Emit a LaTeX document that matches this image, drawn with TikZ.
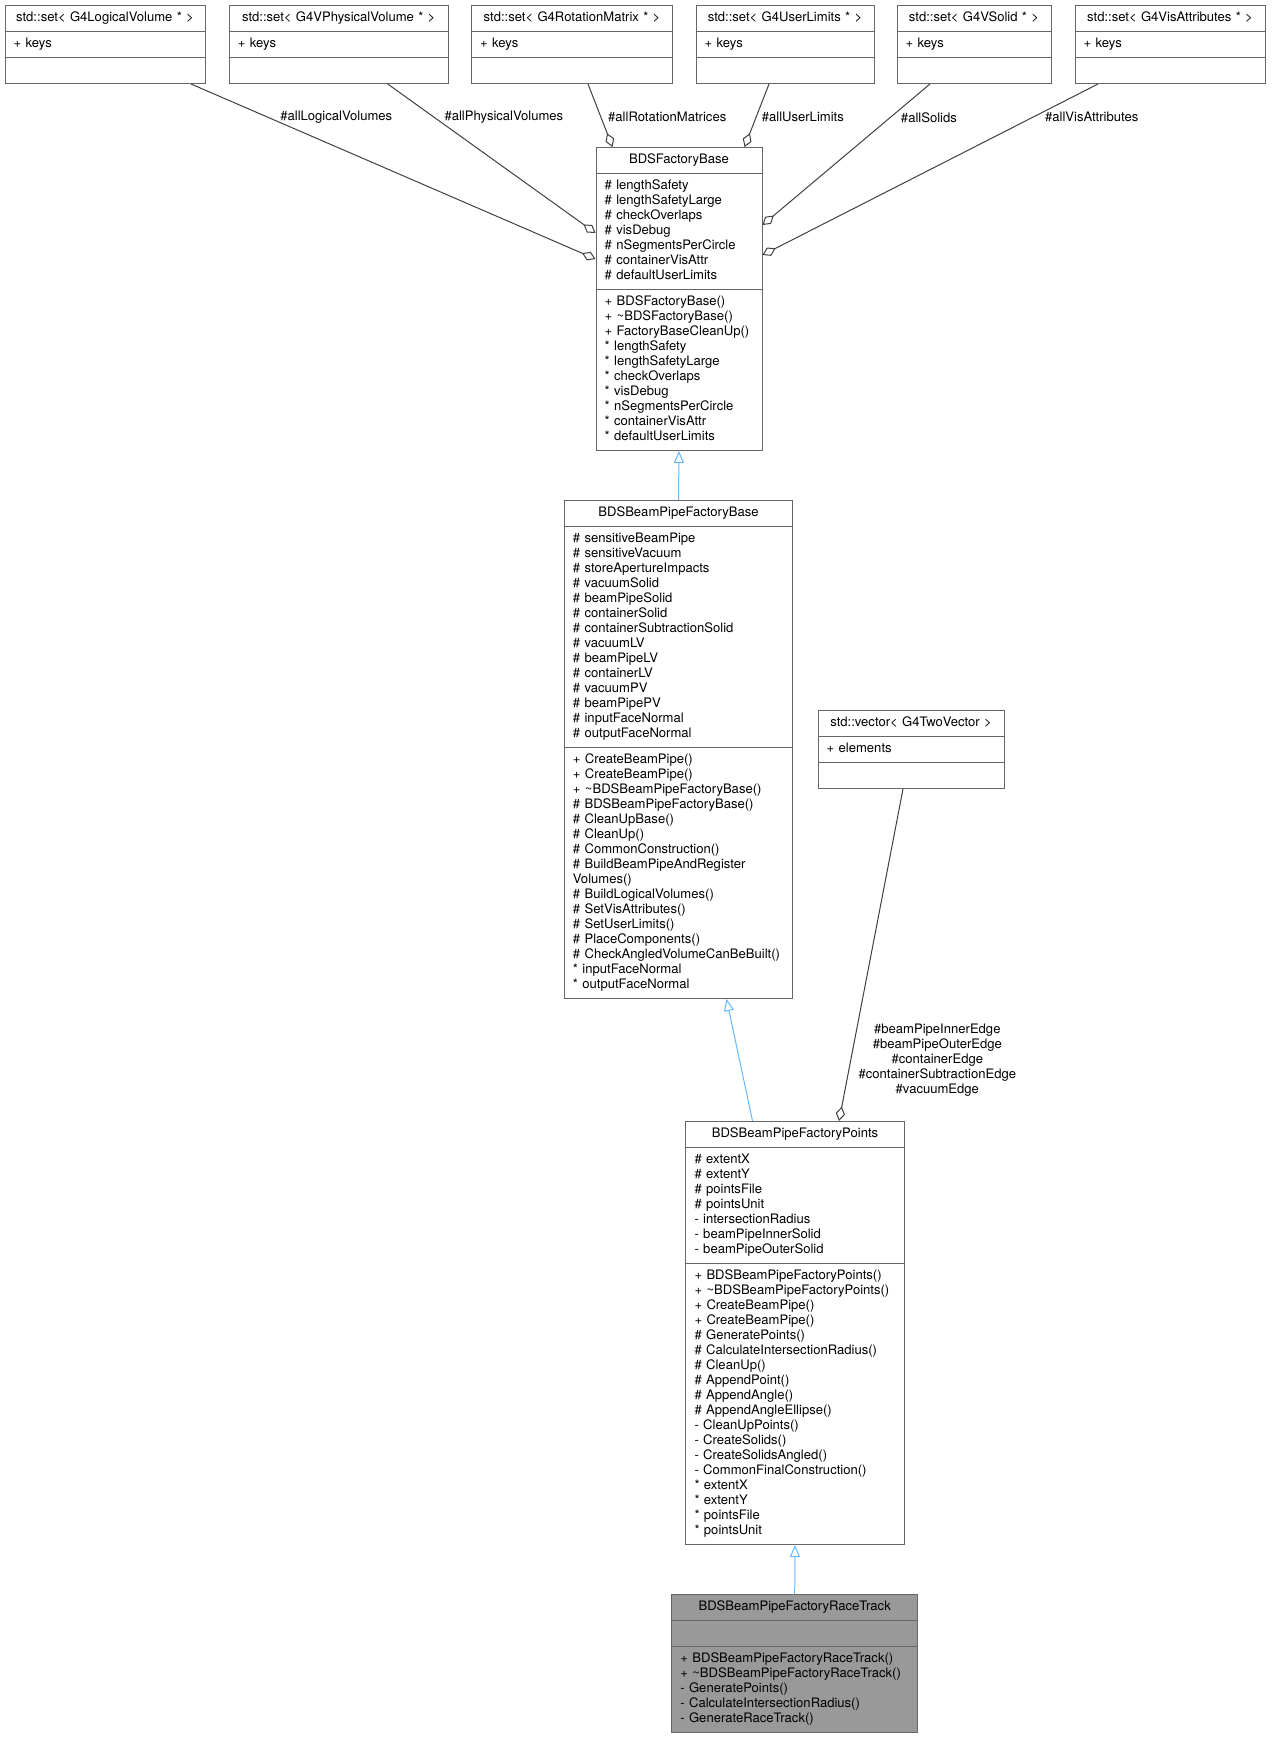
\documentclass[tikz,border=0pt]{standalone}
\usepackage{fontspec}
\setmainfont{TeX Gyre Heros}
\usepackage{tikz}
\usetikzlibrary{shapes.multipart,arrows.meta,calc}
\definecolor{grey25}{HTML}{404040}
\definecolor{grey40}{HTML}{666666}
\definecolor{grey60}{HTML}{999999}
\definecolor{steelblue1}{HTML}{63B8FF}
\hyphenpenalty=10000
\exhyphenpenalty=10000
\newcommand{\cname}[1]{\fontsize{9.8}{11.25}\selectfont\centering\strut#1\strut\par}
\newcommand{\cmembers}[1]{\fontsize{9.8}{11.25}\selectfont\raggedright\strut#1\strut\par}

\begin{document}
\begin{tikzpicture}[x=0.75pt,y=-0.75pt,
	classbox/.style={draw=grey40, line width=0.75pt, fill=white, rectangle split, rectangle split parts=3,
		anchor=north, inner xsep=6.5pt, inner ysep=3.75pt, font=\fontsize{9.8}{11.25}\selectfont},
	aggr/.style={color=grey25, line width=0.75pt, -{Diamond[open,length=11pt,width=7pt]}},
	inh/.style={color=steelblue1, line width=0.75pt, -{Triangle[open,length=9pt,width=7.5pt]}},
	lbl/.style={text=black, font=\fontsize{9.8}{11.25}\selectfont, anchor=west, inner sep=0pt, align=center}]
	\useasboundingbox (0,0) rectangle (1271,1737);
	\node[classbox, text width=137pt] (setLV) at (105,5) {\cname{std::set< G4LogicalVolume * >}
		\nodepart{second}\cmembers{+ keys}\nodepart{third}\cmembers{}};
	\node[classbox, text width=151.25pt] (setPV) at (338.7,5) {\cname{std::set< G4VPhysicalVolume * >}
		\nodepart{second}\cmembers{+ keys}\nodepart{third}\cmembers{}};
	\node[classbox, text width=137.75pt] (setRot) at (572,5) {\cname{std::set< G4RotationMatrix * >}
		\nodepart{second}\cmembers{+ keys}\nodepart{third}\cmembers{}};
	\node[classbox, text width=120.5pt] (setUL) at (785,5) {\cname{std::set< G4UserLimits * >}
		\nodepart{second}\cmembers{+ keys}\nodepart{third}\cmembers{}};
	\node[classbox, text width=102.5pt] (setSolid) at (974,5) {\cname{std::set< G4VSolid * >}
		\nodepart{second}\cmembers{+ keys}\nodepart{third}\cmembers{}};
	\node[classbox, text width=129.5pt] (setVis) at (1170,5) {\cname{std::set< G4VisAttributes * >}
		\nodepart{second}\cmembers{+ keys}\nodepart{third}\cmembers{}};
	\node[classbox, text width=111.5pt] (factoryBase) at (679,147) {\cname{BDSFactoryBase}
		\nodepart{second}\cmembers{\# lengthSafety\\\# lengthSafetyLarge\\\# checkOverlaps\\\# visDebug\\\# nSegmentsPerCircle\\\# containerVisAttr\\\# defaultUserLimits}
		\nodepart{third}\cmembers{+ BDSFactoryBase()\\+ \textasciitilde BDSFactoryBase()\\+ FactoryBaseCleanUp()\\{*} lengthSafety\\{*} lengthSafetyLarge\\{*} checkOverlaps\\{*} visDebug\\{*} nSegmentsPerCircle\\{*} containerVisAttr\\{*} defaultUserLimits}};
	\node[classbox, text width=158.3pt] (pipeBase) at (678.5,500) {\cname{BDSBeamPipeFactoryBase}
		\nodepart{second}\cmembers{\# sensitiveBeamPipe\\\# sensitiveVacuum\\\# storeApertureImpacts\\\# vacuumSolid\\\# beamPipeSolid\\\# containerSolid\\\# containerSubtractionSolid\\\# vacuumLV\\\# beamPipeLV\\\# containerLV\\\# vacuumPV\\\# beamPipePV\\\# inputFaceNormal\\\# outputFaceNormal}
		\nodepart{third}\cmembers{+ CreateBeamPipe()\\+ CreateBeamPipe()\\+ \textasciitilde BDSBeamPipeFactoryBase()\\\# BDSBeamPipeFactoryBase()\\\# CleanUpBase()\\\# CleanUp()\\\# CommonConstruction()\\\# BuildBeamPipeAndRegister\\Volumes()\\\# BuildLogicalVolumes()\\\# SetVisAttributes()\\\# SetUserLimits()\\\# PlaceComponents()\\\# CheckAngledVolumeCanBeBuilt()\\{*} inputFaceNormal\\{*} outputFaceNormal}};
	\node[classbox, text width=126.5pt] (twoVec) at (911,710) {\cname{std::vector< G4TwoVector >}
		\nodepart{second}\cmembers{+ elements}\nodepart{third}\cmembers{}};
	\node[classbox, text width=150.7pt] (pipePoints) at (795,1121) {\cname{BDSBeamPipeFactoryPoints}
		\nodepart{second}\cmembers{\# extentX\\\# extentY\\\# pointsFile\\\# pointsUnit\\- intersectionRadius\\- beamPipeInnerSolid\\- beamPipeOuterSolid}
		\nodepart{third}\cmembers{+ BDSBeamPipeFactoryPoints()\\+ \textasciitilde BDSBeamPipeFactoryPoints()\\+ CreateBeamPipe()\\+ CreateBeamPipe()\\\# GeneratePoints()\\\# CalculateIntersectionRadius()\\\# CleanUp()\\\# AppendPoint()\\\# AppendAngle()\\\# AppendAngleEllipse()\\- CleanUpPoints()\\- CreateSolids()\\- CreateSolidsAngled()\\- CommonFinalConstruction()\\{*} extentX\\{*} extentY\\{*} pointsFile\\{*} pointsUnit}};
	\node[classbox, fill=grey60, text width=171.5pt] (raceTrack) at (794.7,1594) {\cname{BDSBeamPipeFactoryRaceTrack}
		\nodepart{second}\cmembers{}
		\nodepart{third}\cmembers{+ BDSBeamPipeFactoryRaceTrack()\\+ \textasciitilde BDSBeamPipeFactoryRaceTrack()\\- GeneratePoints()\\- CalculateIntersectionRadius()\\- GenerateRaceTrack()}};
	\path[aggr] ($(setLV.south)+(86,0)$) edge node[lbl,pos=0.19,xshift=9pt] {\#allLogicalVolumes} ($(factoryBase.north west)+(0,112)$);
	\path[aggr] ($(setPV.south)+(49,0)$) edge node[lbl,pos=0.223,xshift=7.5pt] {\#allPhysicalVolumes} ($(factoryBase.north west)+(0,86)$);
	\path[aggr] ($(setRot.south)+(16,0)$) edge node[lbl,pos=0.518,xshift=5.25pt] {\#allRotationMatrices} ($(factoryBase.north west)+(17,0)$);
	\path[aggr] ($(setUL.south)+(-16,0)$) edge node[lbl,pos=0.518,xshift=3.75pt] {\#allUserLimits} ($(factoryBase.north east)+(-18,0)$);
	\path[aggr] ($(setSolid.south)+(-44,0)$) edge node[lbl,pos=0.236,xshift=7.5pt] {\#allSolids} ($(factoryBase.north east)+(0,78)$);
	\path[aggr] ($(setVis.south)+(-72,0)$) edge node[lbl,pos=0.195,xshift=9pt] {\#allVisAttributes} ($(factoryBase.north east)+(0,108)$);
	\path[inh] (pipeBase.north) edge (factoryBase.south);
	\path[inh] ($(pipePoints.north)+(-42.5,0)$) edge ($(pipeBase.south)+(48,0)$);
	\path[aggr] ($(twoVec.south)+(-8,0)$) edge node[lbl,pos=0.817,xshift=5.5pt] {\#beamPipeInnerEdge\\\#beamPipeOuterEdge\\\#containerEdge\\\#containerSubtractionEdge\\\#vacuumEdge} ($(pipePoints.north)+(44,0)$);
	\path[inh] (raceTrack.north) edge (pipePoints.south);
\end{tikzpicture}
\end{document}
